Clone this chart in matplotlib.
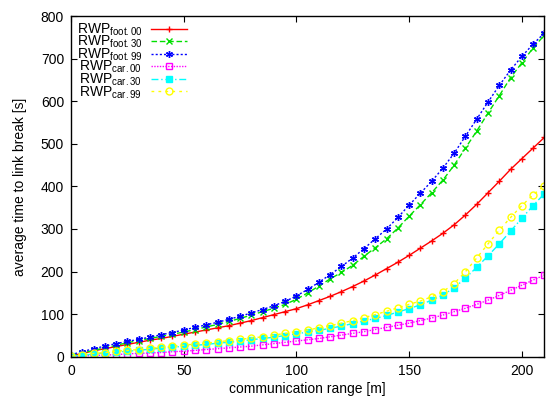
import numpy as np
import matplotlib
matplotlib.use('Agg')
import matplotlib.pyplot as plt

plt.rcParams['font.family'] = ['Liberation Sans', 'DejaVu Sans']
plt.rcParams['mathtext.fontset'] = 'custom'
plt.rcParams['mathtext.rm'] = 'Liberation Sans'

# communication range [m], sampled every 5 m
comm_range = list(range(0, 211, 5))

# average time to link break [s]
foot_00 = [2, 8, 14, 19, 24, 29, 34, 39, 43, 48, 53, 58, 63, 68, 73, 79, 85, 92,
           99, 106, 113, 122, 132, 142, 153, 165, 178, 192, 207, 222, 238, 255,
           272, 290, 310, 333, 358, 385, 412, 440, 465, 490, 515]
foot_30 = [3, 9, 15, 21, 27, 33, 38, 43, 48, 53, 58, 64, 70, 76, 83, 90, 98, 106,
           114, 123, 135, 150, 166, 183, 198, 215, 236, 256, 277, 302, 330, 357,
           385, 415, 450, 490, 530, 572, 613, 655, 690, 725, 755]
foot_99 = [5, 12, 19, 25, 31, 36, 41, 46, 52, 57, 63, 69, 75, 81, 88, 95, 103, 111,
           120, 130, 143, 158, 175, 193, 212, 232, 254, 277, 300, 327, 356, 384,
           412, 443, 478, 518, 558, 598, 637, 673, 705, 734, 760]
car_00 = [0, 2, 3, 4, 5, 7, 8, 9, 10, 12, 13, 15, 17, 19, 21, 23, 25, 28, 31, 34,
          37, 40, 43, 47, 51, 55, 59, 64, 69, 74, 79, 85, 91, 98, 106, 114, 123,
          133, 144, 156, 168, 180, 192]
car_30 = [1, 4, 6, 9, 11, 13, 15, 18, 20, 22, 25, 27, 29, 32, 34, 37, 40, 43, 46,
          50, 54, 58, 62, 67, 72, 78, 84, 90, 97, 105, 113, 122, 133, 145, 162,
          185, 210, 237, 265, 295, 325, 355, 383]
car_99 = [2, 5, 8, 10, 13, 15, 17, 20, 22, 25, 27, 30, 32, 35, 38, 41, 44, 47, 51,
          55, 59, 63, 68, 73, 79, 85, 92, 99, 107, 115, 123, 131, 141, 153, 172,
          200, 232, 265, 297, 327, 355, 380, 402]

series = [
    (r'RWP$_{\mathrm{foot.00}}$', foot_00, '#ff0000', '-', '+', 'none'),
    (r'RWP$_{\mathrm{foot.30}}$', foot_30, '#00e000', (0, (4, 2)), 'x', 'none'),
    (r'RWP$_{\mathrm{foot.99}}$', foot_99, '#0000ff', (0, (1.5, 1.5)), (6, 2, 0), 'none'),
    (r'RWP$_{\mathrm{car.00}}$', car_00, '#ff00ff', (0, (1, 1)), 's', 'none'),
    (r'RWP$_{\mathrm{car.30}}$', car_30, '#00ffff', (0, (5, 2, 1, 2)), 's', 'full'),
    (r'RWP$_{\mathrm{car.99}}$', car_99, '#ffff00', (0, (2, 3)), 'o', 'none'),
]

fig = plt.figure(figsize=(5.46, 4.0), dpi=100)
ax = fig.add_axes([0.130, 0.108, 0.867, 0.852])

for label, vals, col, ls, mk, fill in series:
    ax.plot(comm_range, vals, color=col, linestyle=ls, linewidth=1.0,
            marker=mk, markersize=5, markeredgewidth=1.0, fillstyle=fill,
            markerfacecolor=col if fill == 'full' else 'none',
            markeredgecolor=col, label=label)

ax.set_xlim(0, 210)
ax.set_ylim(0, 800)
ax.set_xticks(np.arange(0, 201, 50))
ax.set_yticks(np.arange(0, 801, 100))
ax.tick_params(direction='in', top=True, right=True, length=4, width=0.8,
               labelsize=10, pad=5)
for sp in ax.spines.values():
    sp.set_linewidth(1.0)

ax.set_xlabel('communication range [m]', fontsize=10, labelpad=3)
ax.set_ylabel('average time to link break [s]', fontsize=10, labelpad=10)

leg = ax.legend(loc='upper left', markerfirst=False, frameon=False, fontsize=10,
                handlelength=2.6, handletextpad=0.6, labelspacing=-0.28,
                borderaxespad=0.0, bbox_to_anchor=(0.0, 1.0))

fig.savefig('out.png', dpi=100)
